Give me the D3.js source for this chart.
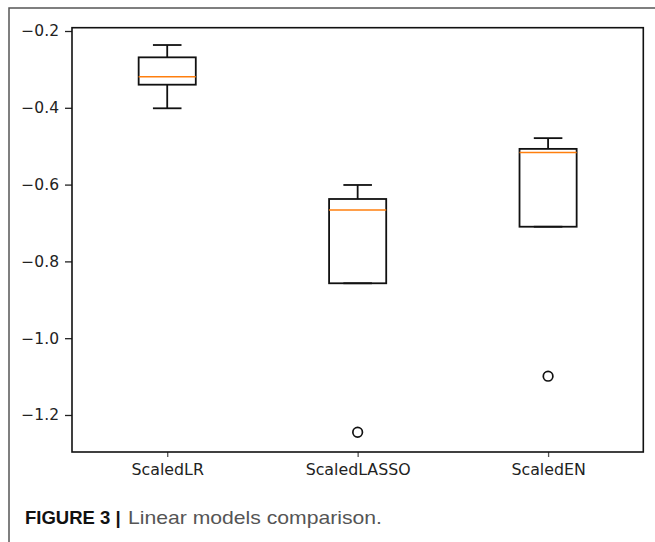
<!DOCTYPE html>
<html>
<head>
<meta charset="utf-8">
<script src="https://cdn.jsdelivr.net/npm/d3@7"></script>
<style>
  body { margin: 0; background: #fff; }
  svg { display: block; }
  .tick text { font-family: "DejaVu Sans", sans-serif; fill: #222; }
</style>
</head>
<body>
<div class="chart"></div>
<script>
// box plot: linear models comparison

// data
var categories = ["ScaledLR", "ScaledLASSO", "ScaledEN"];
var whiskerHigh = [-0.2365, -0.601, -0.479];
var q3 = [-0.2686, -0.6375, -0.507];
var medians = [-0.319, -0.666, -0.5165];
var q1 = [-0.3398, -0.857, -0.7097];
var whiskerLow = [-0.4013, -0.857, -0.7097];
var outliers = [[], [-1.245], [-1.099]];
var yTicks = [-0.2, -0.4, -0.6, -0.8, -1.0, -1.2];

var svgWidth = 655;
var svgHeight = 542;

var margin = { top: 27.7, right: 11.7, bottom: 90, left: 72 };
var width = svgWidth - margin.left - margin.right;
var height = svgHeight - margin.top - margin.bottom;

var svg = d3.select(".chart").append("svg")
    .attr("width", svgWidth)
    .attr("height", svgHeight);

// outer figure frame (top + left)
svg.append("path")
    .attr("d", "M9,542 L9,8 L655,8")
    .attr("fill", "none")
    .attr("stroke", "#555")
    .attr("stroke-width", 1.5);

var chartGroup = svg.append("g")
    .attr("transform", `translate(${margin.left}, ${margin.top})`);

// scales
var xScale = d3.scaleLinear()
    .domain([0.5, categories.length + 0.5])
    .range([0, width]);

var yScale = d3.scaleLinear()
    .domain([-1.2964, -0.1914])
    .range([height, 0]);

// axes
var leftAxis = d3.axisLeft(yScale)
    .tickValues(yTicks)
    .tickFormat(d3.format(".1f"))
    .tickSize(7)
    .tickPadding(6);

var bottomAxis = d3.axisBottom(xScale)
    .tickValues(categories.map((c, i) => i + 1))
    .tickFormat((d, i) => categories[i])
    .tickSize(5)
    .tickPadding(7);

var yAxis = chartGroup.append("g")
    .call(leftAxis);
yAxis.select(".domain").remove();
yAxis.selectAll(".tick line").attr("stroke", "#222").attr("stroke-width", 1.3);
yAxis.selectAll(".tick text").style("font-size", "15.5px");

var xAxis = chartGroup.append("g")
    .attr("transform", `translate(0, ${height})`)
    .call(bottomAxis);
xAxis.select(".domain").remove();
xAxis.selectAll(".tick line").attr("stroke", "#555").attr("stroke-width", 1.3);
xAxis.selectAll(".tick text").style("font-size", "15.8px");

// boxes
var boxW = 0.3;
var capW = 0.15;
var stats = categories.map((c, i) => ({
    pos: i + 1,
    hi: whiskerHigh[i],
    q3: q3[i],
    med: medians[i],
    q1: q1[i],
    lo: whiskerLow[i],
    out: outliers[i]
}));

var boxes = chartGroup.append("g")
    .selectAll("g")
    .data(stats)
    .enter()
    .append("g");

var lineStyle = sel => sel.attr("stroke", "#111").attr("stroke-width", 1.8).attr("fill", "none");

// whiskers
boxes.append("line")
    .attr("x1", d => xScale(d.pos)).attr("x2", d => xScale(d.pos))
    .attr("y1", d => yScale(d.q3)).attr("y2", d => yScale(d.hi))
    .call(lineStyle);
boxes.append("line")
    .attr("x1", d => xScale(d.pos)).attr("x2", d => xScale(d.pos))
    .attr("y1", d => yScale(d.q1)).attr("y2", d => yScale(d.lo))
    .call(lineStyle);

// caps
boxes.append("line")
    .attr("x1", d => xScale(d.pos - capW / 2)).attr("x2", d => xScale(d.pos + capW / 2))
    .attr("y1", d => yScale(d.hi)).attr("y2", d => yScale(d.hi))
    .call(lineStyle);
boxes.append("line")
    .attr("x1", d => xScale(d.pos - capW / 2)).attr("x2", d => xScale(d.pos + capW / 2))
    .attr("y1", d => yScale(d.lo)).attr("y2", d => yScale(d.lo))
    .call(lineStyle);

// box
boxes.append("rect")
    .attr("x", d => xScale(d.pos - boxW / 2))
    .attr("width", d => xScale(d.pos + boxW / 2) - xScale(d.pos - boxW / 2))
    .attr("y", d => yScale(d.q3))
    .attr("height", d => yScale(d.q1) - yScale(d.q3))
    .call(lineStyle);

// median
boxes.append("line")
    .attr("x1", d => xScale(d.pos - boxW / 2)).attr("x2", d => xScale(d.pos + boxW / 2))
    .attr("y1", d => yScale(d.med)).attr("y2", d => yScale(d.med))
    .attr("stroke", "#ff7f0e")
    .attr("stroke-width", 1.6);

// fliers
boxes.selectAll("circle")
    .data(d => d.out.map(v => ({ pos: d.pos, v: v })))
    .enter()
    .append("circle")
    .attr("cx", d => xScale(d.pos))
    .attr("cy", d => yScale(d.v))
    .attr("r", 4.8)
    .attr("fill", "none")
    .attr("stroke", "#111")
    .attr("stroke-width", 1.7);

// plot frame
chartGroup.append("rect")
    .attr("width", width)
    .attr("height", height)
    .attr("fill", "none")
    .attr("stroke", "#111")
    .attr("stroke-width", 1.6);

// caption
svg.append("text")
    .attr("x", 25)
    .attr("y", 524)
    .style("font-family", "'Liberation Sans', Arial, sans-serif")
    .style("font-size", "18.5px")
    .attr("font-weight", "bold")
    .attr("fill", "#111")
    .text("FIGURE 3 |");
svg.append("text")
    .attr("x", 128)
    .attr("y", 524)
    .attr("textLength", 254)
    .attr("lengthAdjust", "spacingAndGlyphs")
    .style("font-family", "'Liberation Sans', Arial, sans-serif")
    .style("font-size", "18.5px")
    .attr("fill", "#555")
    .text("Linear models comparison.");
</script>
</body>
</html>
